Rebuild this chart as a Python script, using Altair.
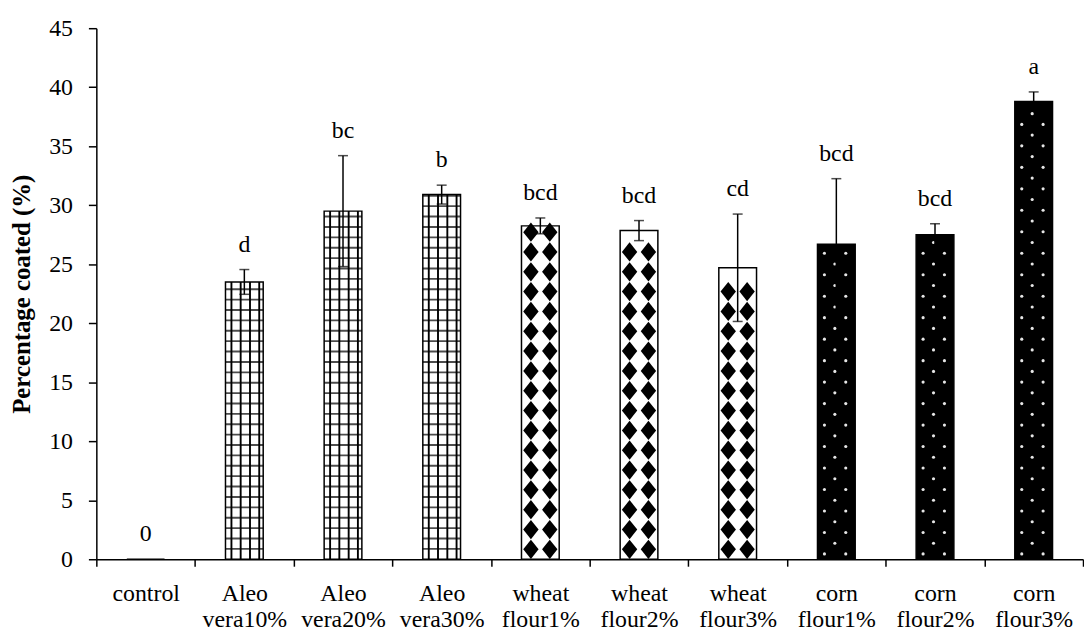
import altair as alt
import pandas as pd

categories = ["control", "Aleo vera10%", "Aleo vera20%", "Aleo vera30%",
              "wheat flour1%", "wheat flour2%", "wheat flour3%",
              "corn flour1%", "corn flour2%", "corn flour3%"]
groups = ["control", "aleo", "aleo", "aleo", "wheat", "wheat", "wheat",
          "corn", "corn", "corn"]
means = [0, 23.5, 29.5, 30.9, 28.25, 27.85, 24.7, 26.7, 27.5, 38.8]
errors = [0, 1.05, 4.7, 0.8, 0.67, 0.85, 4.55, 5.55, 0.93, 0.8]
letters = ["0", "d", "bc", "b", "bcd", "bcd", "cd", "bcd", "bcd", "a"]
y_ticks = [0, 5, 10, 15, 20, 25, 30, 35, 40, 45]

df = pd.DataFrame({"cat": categories, "group": groups, "value": means,
                   "err": errors, "letter": letters})

FONT = "Liberation Serif"
BAR_W = 38
FS = 24

x = alt.X("cat:N", sort=categories,
          scale=alt.Scale(paddingInner=0, paddingOuter=0),
          axis=alt.Axis(title=None, labelAngle=0,
                        labelExpr="split(datum.label, ' ')",
                        tickBand="extent", labelFont=FONT, labelFontSize=FS,
                        labelLineHeight=26, labelColor="black",
                        labelPadding=16, labelBaseline="top",
                        tickSize=7, tickColor="black", tickWidth=1.5,
                        domainColor="black", domainWidth=1.5))
y_scale = alt.Scale(domain=[0, 45], nice=False, zero=True)
y_axis = alt.Axis(title="Percentage coated (%)", values=y_ticks, grid=False,
                  labelFont=FONT, labelFontSize=FS, labelColor="black",
                  labelPadding=16, tickSize=8, tickColor="black",
                  tickWidth=1.5, domainColor="black", domainWidth=1.5,
                  titleFont=FONT, titleFontSize=25, titleFontWeight="bold",
                  titleColor="black", titlePadding=14)


def Y(field):
    return alt.Y(field, scale=y_scale, axis=y_axis)


base = alt.Chart(df).transform_calculate(
    lo="datum.value - datum.err",
    hi="datum.value + datum.err",
    zero="0",
)

bars = base.mark_bar(width=BAR_W, stroke="black", strokeWidth=1.5).encode(
    x=x, y=Y("value:Q"),
    fill=alt.Fill("group:N",
                  scale=alt.Scale(domain=["control", "aleo", "wheat", "corn"],
                                  range=["white", "white", "white", "black"]),
                  legend=None),
)

layers = [bars]

# grid texture (Aleo vera)
aleo = base.transform_filter("datum.group == 'aleo'")
layers.append(
    aleo.transform_calculate(row="sequence(0.88, datum.value, 0.88)")
    .transform_flatten(["row"])
    .mark_tick(size=BAR_W, thickness=1.9, color="black")
    .encode(x=x, y=Y("row:Q"))
)
for o in [-13, -3.7, 5.7, 15]:
    layers.append(
        aleo.mark_rule(xOffset=o, strokeWidth=1.9, color="black")
        .encode(x=x, y=Y("value:Q"), y2="zero:Q")
    )

# diamond texture (wheat flour)
wheat = base.transform_filter("datum.group == 'wheat'")
for o in [-9.5, 9.5]:
    layers.append(
        wheat.transform_calculate(row="sequence(0.84, datum.value - 0.5, 1.68)")
        .transform_flatten(["row"])
        .mark_point(shape="M0,-1.25L1,0L0,1.25L-1,0Z", size=240, filled=True,
                    color="black", opacity=1, strokeWidth=0, xOffset=o)
        .encode(x=x, y=Y("row:Q"))
    )

# dotted texture (corn flour)
corn = base.transform_filter("datum.group == 'corn'")
for o, start in [(-12, 0.45), (9.5, 0.45), (-1.5, 1.36)]:
    layers.append(
        corn.transform_calculate(row=f"sequence({start}, datum.value - 0.3, 1.82)")
        .transform_flatten(["row"])
        .mark_circle(size=10, color="white", opacity=0.9, xOffset=o)
        .encode(x=x, y=Y("row:Q"))
    )

# error bars
eb = base.transform_filter("datum.err > 0")
layers.append(eb.mark_rule(color="black", strokeWidth=1.5)
              .encode(x=x, y=Y("lo:Q"), y2="hi:Q"))
layers.append(eb.mark_tick(size=10, thickness=1.5, color="black")
              .encode(x=x, y=Y("hi:Q")))
layers.append(eb.mark_tick(size=10, thickness=1.5, color="black")
              .encode(x=x, y=Y("lo:Q")))

# significance letters
layers.append(base.mark_text(dy=-25, fontSize=FS, font=FONT, color="black",
                             baseline="middle")
              .encode(x=x, y=Y("hi:Q"), text="letter:N"))

chart = alt.layer(*layers).properties(
    width=994, height=535,
    padding={"left": 89, "top": 18, "right": 1, "bottom": 80},
    autosize=alt.AutoSizeParams(type="none"),
    background="white",
).configure_view(stroke=None)

chart.save("out.html", embed_options={"renderer": "svg", "actions": False})
